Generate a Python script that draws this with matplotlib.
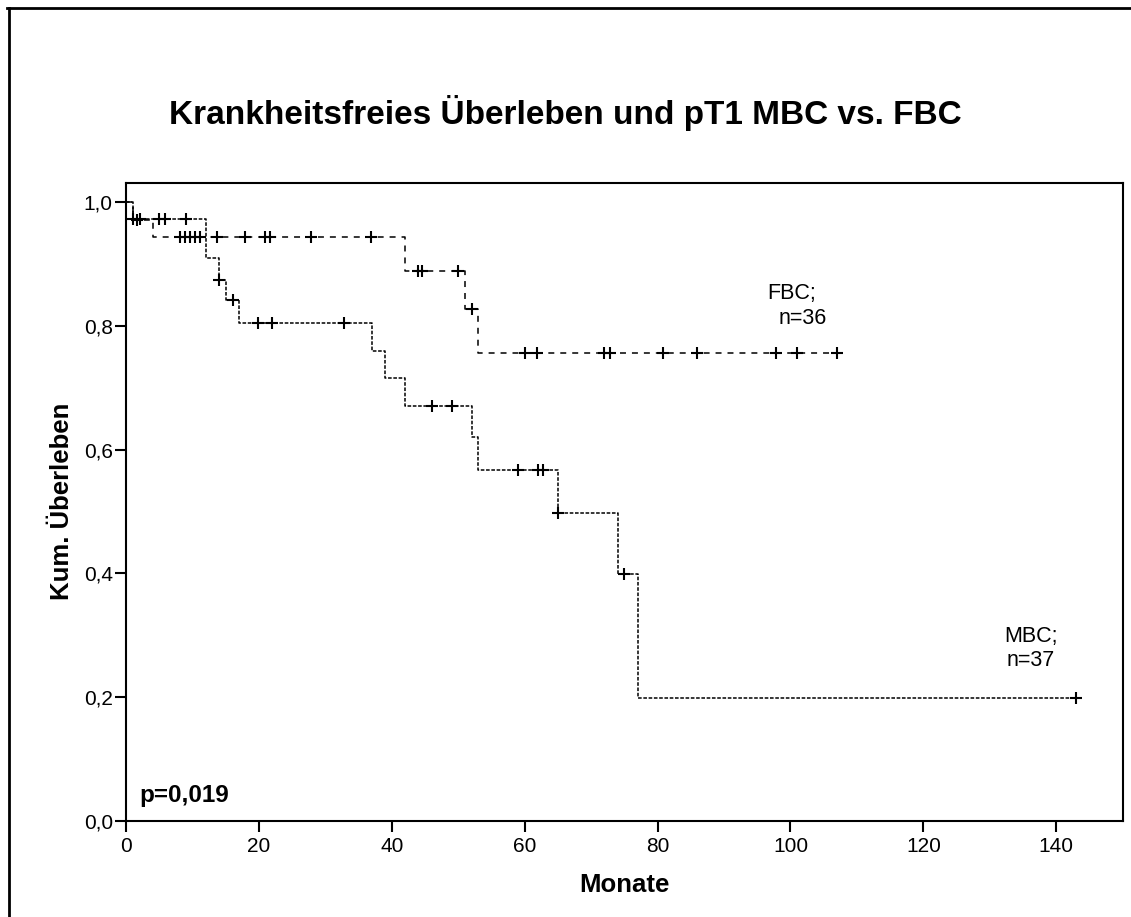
import numpy as np
import matplotlib
matplotlib.use("Agg")
import matplotlib.pyplot as plt
from matplotlib.lines import Line2D

plt.rcParams['font.family'] = ['Liberation Sans', 'DejaVu Sans']
plt.rcParams['lines.scale_dashes'] = False

# ---- data ----
title = "Krankheitsfreies Überleben und pT1 MBC vs. FBC"
xlabel = "Monate"
ylabel = "Kum. Überleben"
p_text = "p=0,019"

fbc_times = [0, 1, 4, 42, 51, 53]
fbc_surv = [1.0, 0.972, 0.944, 0.889, 0.828, 0.756]
fbc_end = 107
fbc_censor = [1.6, 8.1, 8.9, 9.6, 10.4, 11.1, 13.7, 17.9, 20.9, 21.7, 27.9, 36.9,
              44.0, 44.6, 50.0, 52.0, 60.0, 61.8, 72.0, 72.8, 80.8, 85.9, 97.8, 101.0, 107.0]

mbc_times = [0, 1, 12, 14, 15, 17, 37, 39, 42, 52, 53, 65, 74, 77]
mbc_surv = [1.0, 0.973, 0.909, 0.874, 0.842, 0.804, 0.759, 0.715, 0.671, 0.620,
            0.567, 0.497, 0.398, 0.198]
mbc_end = 143
mbc_censor = [1.1, 2.1, 5.0, 5.8, 9.1, 14.0, 16.1, 19.9, 21.9, 32.8, 46.0, 49.0,
              59.0, 62.0, 62.7, 65.0, 75.0, 143.0]

xticks = [0, 20, 40, 60, 80, 100, 120, 140]
yticks = [0.0, 0.2, 0.4, 0.6, 0.8, 1.0]
ytick_labels = ["0,0", "0,2", "0,4", "0,6", "0,8", "1,0"]

fig = plt.figure(figsize=(11.31, 9.17), dpi=100)
ax = fig.add_axes([0.1114, 0.1052, 0.8813, 0.6952])


def draw_curve(times, surv, end, censor, dashes, lw):
    t = np.array(list(times) + [end], dtype=float)
    s = np.array(list(surv) + [surv[-1]], dtype=float)
    ax.step(t, s, where='post', color='black', lw=lw, dashes=dashes,
            solid_capstyle='butt', dash_capstyle='butt')
    c = np.array(censor, dtype=float)
    idx = np.searchsorted(np.array(times, dtype=float), c, side='right') - 1
    cy = np.array(surv)[idx]
    ax.plot(c, cy, linestyle='none', marker='+', color='black',
            markersize=9, markeredgewidth=1.5)


draw_curve(fbc_times, fbc_surv, fbc_end, fbc_censor, (4.3, 4.3), 1.1)
draw_curve(mbc_times, mbc_surv, mbc_end, mbc_censor, (2.6, 1.2), 1.1)

ax.set_xlim(0, 150)
ax.set_ylim(0, 1.031)
ax.set_xticks(xticks)
ax.set_xticklabels([str(v) for v in xticks])
ax.set_yticks(yticks)
ax.set_yticklabels(ytick_labels)
ax.tick_params(axis='both', direction='out', length=8, width=1.5,
               labelsize=15, colors='black')
ax.tick_params(axis='x', pad=4)
ax.tick_params(axis='y', pad=1.5)
for sp in ax.spines.values():
    sp.set_linewidth(1.5)
    sp.set_color('black')

ax.set_xlabel(xlabel, fontsize=18.5, fontweight='bold')
ax.xaxis.label.set_va('center')
ax.xaxis.set_label_coords(0.5, -0.101)
ax.set_ylabel(ylabel, fontsize=18.5, fontweight='bold')
ax.yaxis.label.set_va('center')
ax.yaxis.set_label_coords(-0.0642, 0.5)

ax.text(100.1, 0.853, "FBC;", fontsize=15.5, ha='center', va='center')
ax.text(101.9, 0.8125, "n=36", fontsize=15.5, ha='center', va='center')
ax.text(136.2, 0.298, "MBC;", fontsize=15.5, ha='center', va='center')
ax.text(136.2, 0.2595, "n=37", fontsize=15.5, ha='center', va='center')

ax.text(2.0, 0.03, p_text, fontsize=17.5, fontweight='bold', ha='left',
        va='baseline')

fig.text(0.5, 0.8768, title, fontsize=24, fontweight='bold', ha='center',
         va='center')

# outer frame (only top and left visible in the reference)
fig.add_artist(Line2D([7 / 1131, 1.0], [1 - 7.5 / 917, 1 - 7.5 / 917],
                      transform=fig.transFigure, color='black', lw=2.0))
fig.add_artist(Line2D([8.5 / 1131, 8.5 / 1131], [0.0, 1 - 7.5 / 917],
                      transform=fig.transFigure, color='black', lw=2.0))

fig.savefig("out.png", dpi=100)
